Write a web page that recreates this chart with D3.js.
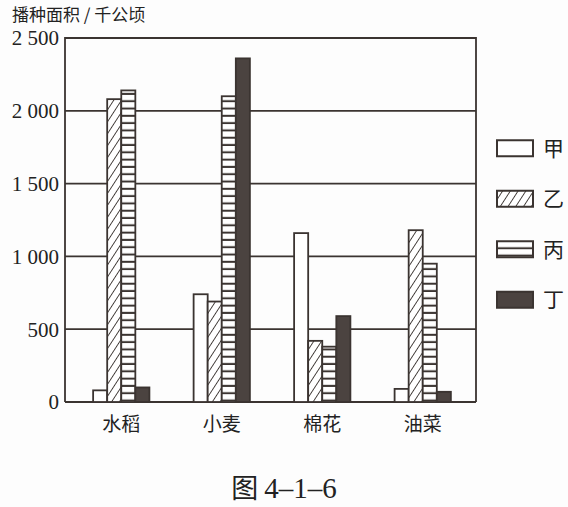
<!DOCTYPE html>
<html><head><meta charset="utf-8">
<script src="https://cdn.jsdelivr.net/npm/d3@7"></script>
<style>body{margin:0;background:#fdfdfd}svg{display:block}</style>
</head><body><svg id="c" width="568" height="507"></svg>
<script>
const categories = ["水稻","小麦","棉花","油菜"];
const seriesNames = ["甲","乙","丙","丁"];
const valJia  = [80, 740, 1160, 90];
const valYi   = [2080, 690, 420, 1180];
const valBing = [2140, 2100, 380, 950];
const valDing = [100, 2360, 590, 70];
const yTicks = [0,500,1000,1500,2000,2500];
const yTickLabels = ["0","500","1 000","1 500","2 000","2 500"];
const yTitle = "播种面积 / 千公顷";
const captionHead = "图";
const captionNum = "4–1–6";

const ink = "#3b3431";
const svg = d3.select("#c");
const defs = svg.append("defs");
const hatch = defs.append("pattern").attr("id","hatch").attr("patternUnits","userSpaceOnUse")
  .attr("width",6.5).attr("height",6.5).attr("patternTransform","rotate(33)");
hatch.append("rect").attr("width",6.5).attr("height",6.5).attr("fill","#fff");
hatch.append("line").attr("x1",0).attr("y1",0).attr("x2",0).attr("y2",6.5).attr("stroke",ink).attr("stroke-width",1.8);
const stripe = defs.append("pattern").attr("id","stripe").attr("patternUnits","userSpaceOnUse")
  .attr("width",20).attr("height",7.3).attr("y",0);
stripe.append("rect").attr("width",20).attr("height",7.3).attr("fill","#fff");
stripe.append("rect").attr("y",5.3).attr("width",20).attr("height",2).attr("fill",ink);
const fills = ["#fff","url(#hatch)","url(#stripe)","#4b4340"];

const L=65, R=476, T=38, B=402;
const y = d3.scaleLinear().domain([0,2500]).range([B,T]);
const x0 = d3.scaleBand().domain(categories).range([68,476]).paddingInner(0.44).paddingOuter(0.25);
const x1 = d3.scaleBand().domain(seriesNames).range([0,x0.bandwidth()]);

// gridlines
svg.append("g").selectAll("line").data(yTicks).join("line")
  .attr("x1",L).attr("x2",R).attr("y1",d=>y(d)).attr("y2",d=>y(d))
  .attr("stroke",ink).attr("stroke-width",1.8);
// frame
svg.append("path").attr("d",`M${L},${B}V${T}H${R}V${B}`).attr("fill","none").attr("stroke",ink).attr("stroke-width",1.8);

const series = [valJia,valYi,valBing,valDing];
const gBars = svg.append("g");
series.forEach((vals,si)=>{
  gBars.selectAll(null).data(vals).join("rect")
    .attr("x",(d,i)=>x0(categories[i])+x1(seriesNames[si]))
    .attr("y",d=>y(d))
    .attr("width",x1.bandwidth())
    .attr("height",d=>y(0)-y(d))
    .attr("fill",fills[si]).attr("stroke",ink).attr("stroke-width",1.8);
});

// y axis labels
svg.append("g").selectAll("text").data(yTicks).join("text")
  .attr("x",59).attr("y",d=>y(d)).attr("dy","0.35em").attr("text-anchor","end")
  .attr("font-family","Liberation Serif, serif").attr("font-size",21).attr("fill","#222")
  .text((d,i)=>yTickLabels[i]);

// category labels
svg.append("g").selectAll("text").data(categories).join("text")
  .attr("x",d=>x0(d)+x0.bandwidth()/2).attr("y",424).attr("dy","0.35em").attr("text-anchor","middle")
  .attr("font-family","Noto Sans CJK SC, sans-serif").attr("font-size",19).attr("fill","#222")
  .text(d=>d);

// title
svg.append("text").attr("x",12).attr("y",21).attr("font-family","Noto Sans CJK SC, sans-serif")
  .attr("font-size",17).attr("fill","#222").text(yTitle);

// legend
const leg = d3.scaleBand().domain(seriesNames).range([123,325]);
const lg = svg.append("g").selectAll("g").data(seriesNames).join("g")
  .attr("transform",d=>`translate(497,${leg(d)+leg.bandwidth()/2})`);
lg.append("rect").attr("x",0).attr("y",-8).attr("width",36).attr("height",16)
  .attr("fill",(d,i)=>fills[i]).attr("stroke",ink).attr("stroke-width",2);
lg.append("text").attr("x",46).attr("dy","0.35em").attr("font-family","Noto Sans CJK SC, sans-serif")
  .attr("font-size",21).attr("fill","#222").text(d=>d);

// caption
const cap = svg.append("text").attr("x",284).attr("y",489).attr("dy","0.35em").attr("text-anchor","middle")
  .attr("font-size",27).attr("fill","#222");
cap.append("tspan").attr("font-family","Noto Sans CJK SC, sans-serif").text(captionHead + " ");
cap.append("tspan").attr("font-family","Liberation Serif, serif").attr("font-size",29).text(captionNum);
</script></body></html>
